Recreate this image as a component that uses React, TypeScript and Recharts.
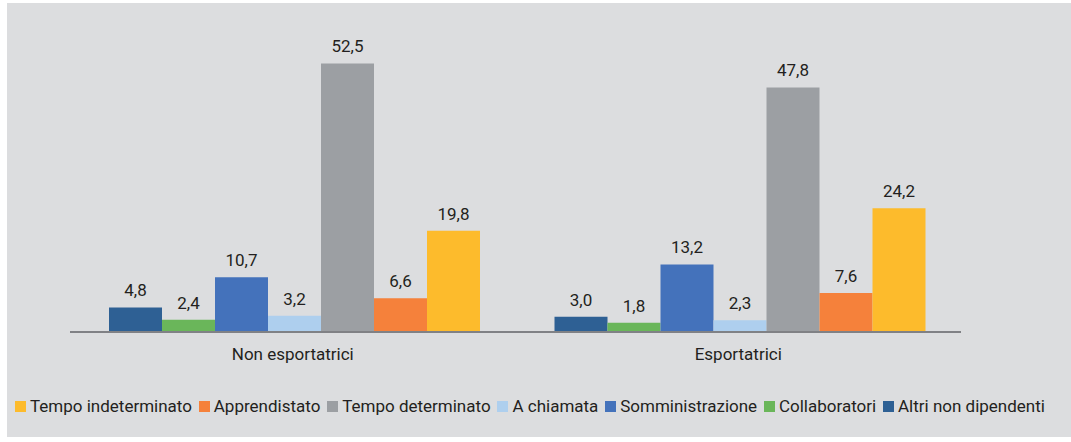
import { BarChart, Bar, XAxis, YAxis, Legend, LabelList } from 'recharts'

const categories = ['Non esportatrici', 'Esportatrici']

const seriesNames = [
  'Altri non dipendenti',
  'Collaboratori',
  'Somministrazione',
  'A chiamata',
  'Tempo determinato',
  'Apprendistato',
  'Tempo indeterminato',
]

const seriesColors = ['#2e6094', '#6ab65a', '#4472bb', '#aecfee', '#9c9fa3', '#f5813b', '#fdbb2c']

const altriNonDipendenti = [4.8, 3.0]
const collaboratori = [2.4, 1.8]
const somministrazione = [10.7, 13.2]
const aChiamata = [3.2, 2.3]
const tempoDeterminato = [52.5, 47.8]
const apprendistato = [6.6, 7.6]
const tempoIndeterminato = [19.8, 24.2]

const seriesValues = [
  altriNonDipendenti,
  collaboratori,
  somministrazione,
  aChiamata,
  tempoDeterminato,
  apprendistato,
  tempoIndeterminato,
]

const data = categories.map((name, i) => {
  const row: Record<string, string | number> = { name }
  seriesNames.forEach((s, j) => {
    row[s] = seriesValues[j][i]
  })
  return row
})

const font = 'Roboto, sans-serif'
const textColor = '#231f20'

const fmt = (v: unknown) => Number(v).toFixed(1).replace('.', ',')

function LegendContent() {
  // legend lists the series in reverse order
  const items = [...seriesNames].reverse().map((n) => ({ name: n, color: seriesColors[seriesNames.indexOf(n)] }))
  return (
    <div
      style={{
        display: 'flex',
        justifyContent: 'space-between',
        alignItems: 'center',
        marginLeft: 8,
        width: 1030,
        paddingTop: 24,
        fontFamily: font,
        fontSize: 17,
        color: textColor,
        whiteSpace: 'nowrap',
      }}
    >
      {items.map((it) => (
        <span key={it.name} style={{ display: 'flex', alignItems: 'center' }}>
          <span style={{ width: 11, height: 11, background: it.color, marginRight: 4, display: 'inline-block' }} />
          {it.name}
        </span>
      ))}
    </div>
  )
}

export default function App() {
  return (
    <div style={{ position: 'absolute', left: 7, top: 3, width: 1064, height: 434, background: '#dcdddf' }}>
      <BarChart
        width={1064}
        height={434}
        data={data}
        margin={{ top: 22, right: 110, left: 63, bottom: 0 }}
        barCategoryGap={39}
        barGap={0}
      >
        <XAxis
          dataKey="name"
          tickLine={false}
          axisLine={{ stroke: '#808185', strokeWidth: 2 }}
          tick={{ fill: textColor, fontSize: 17, fontFamily: font }}
          tickMargin={10}
          height={40}
        />
        <YAxis hide domain={[0, 60]} />
        <Legend
          verticalAlign="bottom"
          height={65}
          content={<LegendContent />}
          wrapperStyle={{ left: 0, width: 1064 }}
        />
        {seriesNames.map((s, i) => (
          <Bar key={s} dataKey={s} fill={seriesColors[i]} isAnimationActive={false}>
            <LabelList
              dataKey={s}
              position="top"
              offset={11}
              formatter={fmt}
              style={{ fill: textColor, fontSize: 17, fontFamily: font }}
            />
          </Bar>
        ))}
      </BarChart>
    </div>
  )
}
